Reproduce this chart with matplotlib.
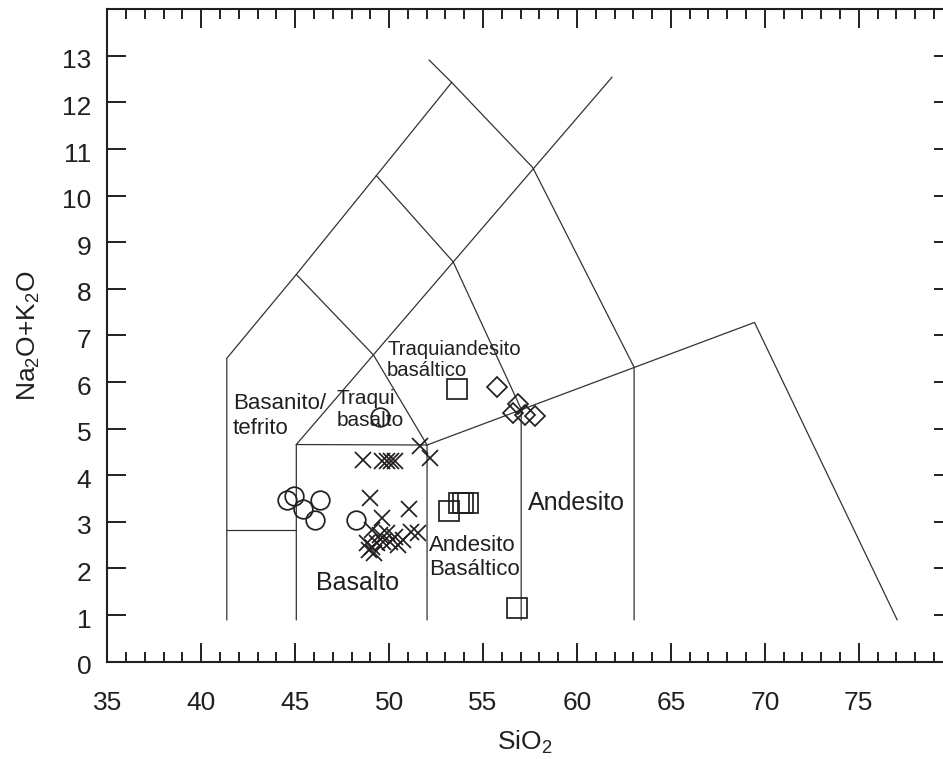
import matplotlib
matplotlib.use("Agg")
import matplotlib.pyplot as plt
import matplotlib.transforms as mtransforms

plt.rcParams['font.family'] = ['Liberation Sans', 'DejaVu Sans']
plt.rcParams['mathtext.fontset'] = 'custom'
plt.rcParams['mathtext.rm'] = 'Liberation Sans'
plt.rcParams['mathtext.it'] = 'Liberation Sans:italic'
plt.rcParams['mathtext.default'] = 'regular'

# ---- data -------------------------------------------------------------
# TAS field boundaries (SiO2, Na2O+K2O) as drawn in the reference
boundary_outer_left = [(41.36, 0.9), (41.36, 6.51), (45.06, 8.31), (49.32, 10.43), (53.33, 12.43)]
boundary_outer_top = [(52.13, 12.91), (53.33, 12.43), (57.65, 10.60), (63.04, 6.32), (63.04, 0.9)]
boundary_picrobasalt = [(41.36, 2.83), (45.06, 2.83)]
boundary_basalt = [(45.06, 0.9), (45.06, 4.66), (52.02, 4.65), (52.02, 0.9)]
boundary_diagonal = [(45.06, 4.66), (61.86, 12.54)]
boundary_trachybasalt = [(45.06, 8.31), (49.17, 6.58), (52.02, 4.65)]
boundary_bas_andesite = [(49.32, 10.43), (53.41, 8.58), (57.03, 5.42), (57.03, 0.9)]
boundary_dacite = [(52.02, 4.65), (69.45, 7.28), (77.04, 0.9)]
boundaries = [boundary_outer_left, boundary_outer_top, boundary_picrobasalt,
              boundary_basalt, boundary_diagonal, boundary_trachybasalt,
              boundary_bas_andesite, boundary_dacite]

circles_x = [44.57, 44.95, 45.43, 46.32, 46.06, 48.24, 49.52]
circles_y = [3.48, 3.55, 3.28, 3.47, 3.04, 3.05, 5.25]

crosses_x = [48.60, 49.62, 49.89, 50.08, 50.31, 51.66, 52.18, 48.98, 51.08, 49.61,
             49.09, 49.52, 49.89, 50.32, 50.75, 51.17, 51.54, 48.82, 49.09, 49.35,
             49.68, 48.93, 50.05, 50.47, 49.20]
crosses_y = [4.33, 4.30, 4.30, 4.30, 4.30, 4.62, 4.37, 3.51, 3.28, 3.08,
             2.83, 2.72, 2.76, 2.68, 2.61, 2.78, 2.76, 2.55, 2.46, 2.55,
             2.57, 2.40, 2.57, 2.50, 2.33]

squares_x = [53.60, 53.21, 53.74, 53.95, 54.22, 56.79]
squares_y = [5.85, 3.23, 3.41, 3.40, 3.40, 1.15]

diamonds_x = [55.73, 56.88, 56.61, 57.24, 57.77]
diamonds_y = [5.89, 5.54, 5.33, 5.29, 5.27]

field_labels = [
    ("Traquiandesito", 49.89, 6.58, 14.6),
    ("basáltico", 49.87, 6.12, 14.6),
    ("Basanito/", 41.69, 5.42, 16),
    ("tefrito", 41.69, 4.89, 16),
    ("Traqui", 47.21, 5.53, 15),
    ("basalto", 47.21, 5.06, 15),
    ("Basalto", 46.11, 1.54, 18),
    ("Andesito", 52.14, 2.38, 16),
    ("Basáltico", 52.14, 1.86, 16),
    ("Andesito", 57.41, 3.25, 18),
]

x_major = list(range(35, 80, 5))
x_minor = list(range(35, 81, 1))
y_major = list(range(0, 14))

# ---- figure -----------------------------------------------------------
ink = '#231f20'
fig = plt.figure(figsize=(9.43, 7.59), dpi=100)
ax = fig.add_axes([0.1138, 0.1282, 0.8965, 0.8596])
ax.set_xlim(35, 80)
ax.set_ylim(0, 14)

for b in boundaries:
    xs = [p[0] for p in b]
    ys = [p[1] for p in b]
    ax.plot(xs, ys, color='#333333', lw=0.9, zorder=2)

mk = dict(linestyle='none', markerfacecolor='none', markeredgecolor=ink,
          markeredgewidth=1.25, zorder=3)
ax.plot(circles_x, circles_y, marker='o', markersize=13.4, **mk)
ax.plot(crosses_x, crosses_y, marker='x', markersize=12.2, **mk)
ax.plot(squares_x, squares_y, marker='s', markersize=13.8, **mk)
ax.plot(diamonds_x, diamonds_y, marker='D', markersize=9.9, **mk)

for txt, x, y, fs in field_labels:
    ax.text(x, y, txt, fontsize=fs, color=ink, ha='left', va='baseline', zorder=4)

for s in ax.spines.values():
    s.set_linewidth(1.5)
    s.set_color(ink)

ax.set_xticks(x_major)
ax.set_xticks(x_minor, minor=True)
ax.set_yticks(y_major)
ax.tick_params(axis='x', which='major', direction='in', top=True, bottom=True,
               length=14, width=1.4, color=ink, labelsize=19, labelcolor=ink, pad=21)
ax.tick_params(axis='x', which='minor', direction='in', top=True, bottom=True,
               length=7.2, width=1.4, color=ink)
ax.tick_params(axis='y', which='major', direction='in', left=True, right=True,
               length=14, width=1.4, color=ink, labelsize=19, labelcolor=ink, pad=11.5)

off = mtransforms.ScaledTranslation(0, -3 / 100, fig.dpi_scale_trans)
for lab in ax.get_yticklabels():
    lab.set_transform(lab.get_transform() + off)

ax.set_xlabel('SiO$_2$', fontsize=19, color=ink)
ax.xaxis.set_label_coords(0.4935, -0.103)
ax.set_ylabel('Na$_2$O+K$_2$O', fontsize=19, color=ink)
ax.yaxis.set_label_coords(-0.077, 0.5)

fig.savefig('out.png', dpi=100)
